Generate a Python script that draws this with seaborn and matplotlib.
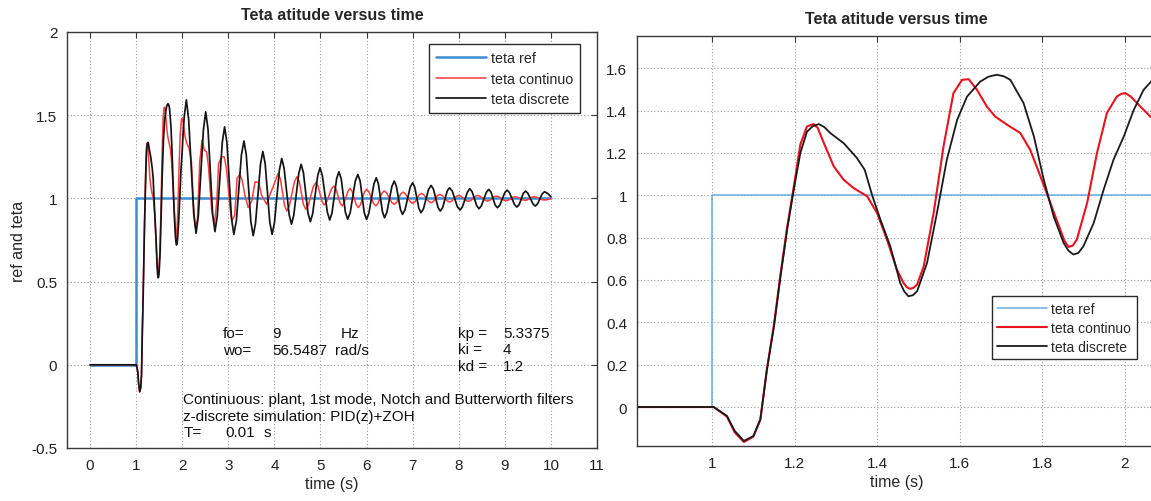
import numpy as np
import pandas as pd
import matplotlib
matplotlib.use("Agg")
import matplotlib.pyplot as plt
from matplotlib.ticker import FuncFormatter
import seaborn as sns

# ---- data -------------------------------------------------------------
ref_time = [0.0, 1.0, 1.0, 10.0]
ref_value = [0.0, 0.0, 1.0, 1.0]

cont_time = [0.0, 1.0, 1.004, 1.036, 1.055, 1.077, 1.10, 1.117, 1.133, 1.15,
             1.166, 1.182, 1.198, 1.214, 1.23, 1.246, 1.256, 1.271, 1.295,
             1.319, 1.343, 1.376, 1.40, 1.424, 1.448, 1.464, 1.472, 1.48,
             1.488, 1.497, 1.513, 1.537, 1.561, 1.585, 1.606, 1.622, 1.642,
             1.666, 1.686, 1.715, 1.747, 1.771, 1.796, 1.82, 1.844, 1.854,
             1.864, 1.874, 1.884, 1.909, 1.933, 1.957, 1.981, 1.992, 2.002,
             2.015, 2.03, 2.062,
             2.10, 2.15, 2.20, 2.24, 2.28, 2.33, 2.38, 2.43, 2.48, 2.53,
             2.57, 2.64, 2.70, 2.75, 2.79, 2.86, 2.91, 2.96, 3.04, 3.08,
             3.14, 3.19, 3.25, 3.30, 3.36, 3.43, 3.51, 3.58, 3.66, 3.72,
             3.83, 3.90, 3.98,
             4.08, 4.13, 4.22, 4.27, 4.325, 4.435, 4.49, 4.54, 4.63, 4.68,
             4.735, 4.845, 4.90, 4.945, 5.035, 5.08, 5.13, 5.24, 5.29, 5.335,
             5.425, 5.47, 5.51, 5.60, 5.64, 5.685, 5.775, 5.82, 5.865, 5.955,
             6.00, 6.05, 6.15, 6.20, 6.245, 6.335, 6.38, 6.435, 6.545, 6.60,
             6.65, 6.74, 6.79, 6.84, 6.95, 7.00, 7.05, 7.14, 7.19, 7.24,
             7.35, 7.40, 7.45, 7.54, 7.59, 7.64, 7.75, 7.80, 7.85, 7.95,
             8.00, 8.05, 8.16, 8.21, 8.26, 8.36, 8.41, 8.46, 8.57, 8.62,
             8.67, 8.76, 8.81, 8.865, 8.975, 9.03, 9.08, 9.17, 9.22, 9.275,
             9.385, 9.44, 9.49, 9.58, 9.63, 9.69, 9.80, 9.86, 9.93, 10.0]
cont_value = [0.0, 0.0, 0.0, -0.045, -0.12, -0.165, -0.14, -0.06, 0.18, 0.39,
              0.63, 0.85, 1.04, 1.24, 1.325, 1.336, 1.318, 1.246, 1.136,
              1.073, 1.034, 0.995, 0.916, 0.79, 0.649, 0.586, 0.566, 0.558,
              0.563, 0.578, 0.665, 0.916, 1.231, 1.482, 1.545, 1.548, 1.498,
              1.419, 1.372, 1.333, 1.294, 1.215, 1.089, 0.963, 0.838, 0.785,
              0.756, 0.762, 0.79, 0.963, 1.2, 1.388, 1.466, 1.479, 1.482,
              1.466, 1.435, 1.372,
              1.33, 1.30, 1.22, 0.98, 0.83, 0.87, 1.22, 1.35, 1.29, 1.28,
              1.19, 0.93, 0.845, 0.98, 1.21, 1.25, 1.25, 1.18, 0.94, 0.865,
              0.90, 1.12, 1.145, 1.11, 1.02, 0.945, 0.985, 1.10, 1.095, 1.02,
              0.965, 1.02, 1.075,
              1.15, 1.117, 0.958, 0.925, 0.955, 1.10, 1.13, 1.102, 0.963, 0.935,
              0.958, 1.072, 1.095, 1.075, 0.98, 0.96, 0.977, 1.058, 1.075, 1.057,
              0.973, 0.955, 0.97, 1.045, 1.06, 1.043, 0.962, 0.945, 0.961, 1.039,
              1.055, 1.04, 0.97, 0.955, 0.968, 1.032, 1.045, 1.033, 0.976, 0.964,
              0.975, 1.027, 1.038, 1.028, 0.98, 0.97, 0.979, 1.021, 1.03, 1.022,
              0.982, 0.974, 0.981, 1.017, 1.024, 1.017, 0.985, 0.978, 0.984, 1.012,
              1.018, 1.013, 0.987, 0.982, 0.987, 1.013, 1.018, 1.013, 0.989, 0.984,
              0.988, 1.01, 1.014, 1.01, 0.99, 0.986, 0.99, 1.006, 1.01, 1.007,
              0.991, 0.988, 0.991, 1.007, 1.01, 1.007, 0.993, 0.99, 0.993, 1.0]

disc_time = [0.0, 1.0, 1.004, 1.036, 1.055, 1.077, 1.10, 1.117, 1.133, 1.15,
             1.166, 1.182, 1.198, 1.214, 1.23, 1.244, 1.259, 1.272, 1.287,
             1.319, 1.351, 1.37, 1.388, 1.408, 1.432, 1.456, 1.466, 1.476,
             1.487, 1.497, 1.521, 1.545, 1.569, 1.594, 1.618, 1.65, 1.67,
             1.69, 1.707, 1.723, 1.755, 1.78, 1.804, 1.828, 1.852, 1.864,
             1.876, 1.888, 1.90, 1.925, 1.949, 1.973, 1.998, 2.022, 2.046,
             2.09, 2.14, 2.25, 2.30, 2.35, 2.46, 2.51, 2.56, 2.66, 2.71,
             2.76, 2.87, 2.92, 2.97, 3.07, 3.12, 3.175, 3.285, 3.34, 3.39,
             3.49, 3.54, 3.59, 3.70, 3.75, 3.80, 3.90, 3.95, 4.00, 4.11,
             4.16, 4.21, 4.32, 4.37, 4.42, 4.53, 4.58, 4.63, 4.73, 4.78,
             4.83, 4.94, 4.99, 5.04, 5.15, 5.20, 5.25, 5.35, 5.40, 5.45,
             5.54, 5.59, 5.645, 5.755, 5.81, 5.86, 5.95, 6.00, 6.05, 6.16,
             6.21, 6.255, 6.345, 6.39, 6.44, 6.55, 6.60, 6.645, 6.735, 6.78,
             6.835, 6.945, 7.00, 7.045, 7.135, 7.18, 7.235, 7.345, 7.40, 7.45,
             7.55, 7.60, 7.65, 7.75, 7.80, 7.86, 7.97, 8.03, 8.08, 8.19,
             8.24, 8.29, 8.39, 8.44, 8.49, 8.60, 8.65, 8.70, 8.79, 8.84,
             8.89, 9.00, 9.05, 9.10, 9.21, 9.26, 9.31, 9.40, 9.45, 9.50,
             9.61, 9.66, 9.71, 9.81, 9.86, 9.93, 10.0]
disc_value = [0.0, 0.0, 0.0, -0.042, -0.113, -0.16, -0.137, -0.058, 0.178, 0.38,
              0.618, 0.838, 1.026, 1.2, 1.30, 1.326, 1.336, 1.322, 1.293,
              1.246, 1.176, 1.12, 1.0, 0.885, 0.759, 0.586, 0.545, 0.523,
              0.528, 0.547, 0.68, 0.916, 1.168, 1.356, 1.466, 1.537, 1.56,
              1.569, 1.562, 1.545, 1.435, 1.278, 1.073, 0.90, 0.775, 0.738,
              0.72, 0.728, 0.759, 0.869, 1.026, 1.168, 1.278, 1.403, 1.498,
              1.592, 1.475, 0.907, 0.79, 0.897, 1.413, 1.52, 1.415, 0.905, 0.80,
              0.892, 1.338, 1.43, 1.336, 0.878, 0.784, 0.866, 1.263, 1.345, 1.262,
              0.859, 0.776, 0.85, 1.208, 1.282, 1.209, 0.857, 0.784, 0.851, 1.173,
              1.24, 1.182, 0.903, 0.845, 0.898, 1.152, 1.205, 1.155, 0.91, 0.86,
              0.907, 1.137, 1.184, 1.138, 0.916, 0.87, 0.912, 1.118, 1.16, 1.118,
              0.917, 0.875, 0.914, 1.105, 1.144, 1.105, 0.913, 0.874, 0.911, 1.087,
              1.124, 1.089, 0.919, 0.884, 0.916, 1.072, 1.104, 1.075, 0.933, 0.904,
              0.932, 1.066, 1.094, 1.068, 0.94, 0.914, 0.938, 1.054, 1.078, 1.056,
              0.946, 0.924, 0.944, 1.044, 1.064, 1.044, 0.95, 0.93, 0.949, 1.039,
              1.058, 1.04, 0.956, 0.938, 0.955, 1.037, 1.054, 1.038, 0.96, 0.944,
              0.959, 1.035, 1.05, 1.035, 0.963, 0.948, 0.962, 1.03, 1.044, 1.031,
              0.967, 0.954, 0.967, 1.027, 1.04, 1.03, 1.01]

series_names = ["teta ref", "teta continuo", "teta discrete"]

left_xticks = list(range(0, 12))
left_yticks = [-0.5, 0, 0.5, 1, 1.5, 2]
right_xticks = [1, 1.2, 1.4, 1.6, 1.8, 2]
right_yticks = [0, 0.2, 0.4, 0.6, 0.8, 1, 1.2, 1.4, 1.6]

param_labels = ["fo=", "wo="]
param_values = ["9", "56.5487"]
param_units = ["Hz", "rad/s"]
gain_labels = ["kp =", "ki =", "kd ="]
gain_values = ["5.3375", "4", "1.2"]
notes = ["Continuous: plant, 1st mode, Notch and Butterworth filters",
         "z-discrete simulation: PID(z)+ZOH"]
sample_row = ("T=", "0.01", "s")

ref_df = pd.DataFrame({"t": ref_time, "v": ref_value})
cont_df = pd.DataFrame({"t": cont_time, "v": cont_value})
disc_df = pd.DataFrame({"t": disc_time, "v": disc_value})

# ---- style ------------------------------------------------------------
sns.set_theme(style="white")
plt.rcParams["font.family"] = ["Liberation Sans", "DejaVu Sans"]
plt.rcParams["axes.unicode_minus"] = False

fig = plt.figure(figsize=(11.51, 5.02), dpi=100)
W, H = 1151.0, 502.0
ax1 = fig.add_axes([67 / W, 1 - 449 / H, 530 / W, 416 / H])
ax2 = fig.add_axes([637 / W, 1 - 447 / H, 519 / W, 410 / H])

fmt = FuncFormatter(lambda v, p: "%g" % v)


def style_axes(ax):
    ax.set_facecolor("white")
    ax.grid(True, linestyle=(0, (1, 2)), color="#9a9a9a", linewidth=0.8)
    ax.set_axisbelow(True)
    for s in ax.spines.values():
        s.set_color("#3a3a3a")
        s.set_linewidth(1.0)
    ax.tick_params(direction="in", length=4, width=0.8, colors="#3a3a3a",
                   top=True, right=True, labelsize=11, labelcolor="#222222",
                   pad=7)
    ax.xaxis.set_major_formatter(fmt)
    ax.yaxis.set_major_formatter(fmt)


line_kw = dict(sort=False, estimator=None, legend=False)

# ---- left: full response ----------------------------------------------
sns.lineplot(data=ref_df, x="t", y="v", ax=ax1, color="#3c8dd0",
             linewidth=1.8, **line_kw)
sns.lineplot(data=cont_df, x="t", y="v", ax=ax1, color="#ff3b3b",
             linewidth=1.1, **line_kw)
sns.lineplot(data=disc_df, x="t", y="v", ax=ax1, color="#151515",
             linewidth=1.25, **line_kw)
for ln in ax1.lines:
    ln.set_solid_joinstyle("round")
ax1.set_xlim(-0.5, 11)
ax1.set_ylim(-0.5, 2)
ax1.set_xticks(left_xticks)
ax1.set_yticks(left_yticks)
style_axes(ax1)
ax1.set_xlabel("time (s)", fontsize=11.5, labelpad=3)
ax1.set_ylabel("ref and teta", fontsize=11.5, labelpad=4)
ax1.set_title("Teta atitude versus time", fontsize=11.5, fontweight="bold",
              pad=9)
leg1 = ax1.legend(ax1.lines[:3], series_names, loc="upper right",
                  bbox_to_anchor=(0.968, 0.971), fontsize=10.3,
                  handlelength=3.5, handletextpad=0.3, labelspacing=0.45,
                  borderpad=0.5, fancybox=False, framealpha=1,
                  edgecolor="#2a2a2a", borderaxespad=0.0)
leg1.get_frame().set_linewidth(1.0)

txt = dict(fontsize=11, color="#111111", va="center", ha="left")
unit_x = [5.43, 5.32]
for i in range(len(param_labels)):
    y = 0.192 - 0.102 * i
    ax1.text(2.89, y, param_labels[i], **txt)
    ax1.text(3.96, y, param_values[i], **txt)
    ax1.text(unit_x[i], y, param_units[i], **txt)
for i in range(len(gain_labels)):
    y = 0.192 - 0.099 * i
    ax1.text(7.98, y, gain_labels[i], **txt)
    ax1.text(8.96, y, gain_values[i], **txt)
for i, line in enumerate(notes):
    ax1.text(2.02, -0.204 - 0.102 * i, line, **txt)
ax1.text(2.02, -0.403, sample_row[0], **txt)
ax1.text(2.93, -0.403, sample_row[1], **txt)
ax1.text(3.76, -0.403, sample_row[2], **txt)

# ---- right: close-up of the first oscillations ------------------------
sns.lineplot(data=ref_df, x="t", y="v", ax=ax2, color="#6aaee0",
             linewidth=1.1, **line_kw)
sns.lineplot(data=cont_df, x="t", y="v", ax=ax2, color="#e8131f",
             linewidth=1.5, **line_kw)
sns.lineplot(data=disc_df, x="t", y="v", ax=ax2, color="#1a1a1a",
             linewidth=1.3, **line_kw)
for ln in ax2.lines:
    ln.set_solid_joinstyle("round")
ax2.set_xlim(0.818, 2.076)
ax2.set_ylim(-0.184, 1.752)
ax2.set_xticks(right_xticks)
ax2.set_yticks(right_yticks)
style_axes(ax2)
ax2.set_xlabel("time (s)", fontsize=11.5, labelpad=3)
ax2.set_ylabel("")
ax2.set_title("Teta atitude versus time", fontsize=11.5, fontweight="bold",
              pad=9)
leg2 = ax2.legend(ax2.lines[:3], series_names, loc="lower right",
                  bbox_to_anchor=(0.963, 0.212), fontsize=10,
                  handlelength=3.6, handletextpad=0.3, labelspacing=0.35,
                  borderpad=0.4, fancybox=False, framealpha=1,
                  edgecolor="#2a2a2a", borderaxespad=0.0)
leg2.get_frame().set_linewidth(1.0)

fig.savefig("out.png", dpi=100, facecolor="white")
